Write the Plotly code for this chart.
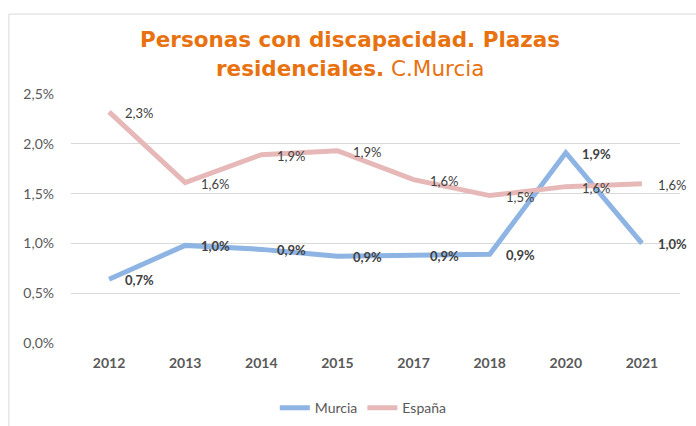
import plotly.graph_objects as go

years = ["2012", "2013", "2014", "2015", "2017", "2018", "2020", "2021"]
murcia = [0.64, 0.98, 0.94, 0.87, 0.88, 0.89, 1.91, 1.00]
espana = [2.32, 1.61, 1.89, 1.93, 1.64, 1.48, 1.57, 1.60]
murcia_labels = ["0,7%", "1,0%", "0,9%", "0,9%", "0,9%", "0,9%", "1,9%", "1,0%"]
espana_labels = ["2,3%", "1,6%", "1,9%", "1,9%", "1,6%", "1,5%", "1,6%", "1,6%"]
y_ticks = [0, 0.5, 1.0, 1.5, 2.0, 2.5]
y_tick_labels = ["0,0%", "0,5%", "1,0%", "1,5%", "2,0%", "2,5%"]

blue = "#8EB4E3"
pink = "#E6B9B8"
txt = "#404040"
axis_txt = "#595959"
orange = "#E8720F"
font = "Lato"

fig = go.Figure()
fig.add_trace(go.Scatter(x=years, y=murcia, mode="lines", name="Murcia",
                         line=dict(color=blue, width=5)))
fig.add_trace(go.Scatter(x=years, y=espana, mode="lines", name="España",
                         line=dict(color=pink, width=5)))

annotations = []
# category axis annotations use serial index positions
for i, (y, t) in enumerate(zip(murcia, murcia_labels)):
    annotations.append(dict(x=i, y=y, text="<b>" + t + "</b>", showarrow=False,
                            xanchor="left", yanchor="middle", xshift=14, yshift=-1,
                            font=dict(family=font, size=13, color=txt)))
for i, (y, t) in enumerate(zip(espana, espana_labels)):
    annotations.append(dict(x=i, y=y, text=t, showarrow=False,
                            xanchor="left", yanchor="middle", xshift=14, yshift=-1,
                            font=dict(family=font, size=13, color=txt)))

annotations.append(dict(
    xref="paper", yref="paper", x=0.458, y=1.217, xanchor="center", yanchor="middle",
    text="<b>Personas con discapacidad. Plazas</b>",
    showarrow=False, font=dict(family="DejaVu Sans", size=21.5, color=orange)))
annotations.append(dict(
    xref="paper", yref="paper", x=0.458, y=1.104, xanchor="center", yanchor="middle",
    text="<b>residenciales.</b> C.Murcia",
    showarrow=False, font=dict(family="DejaVu Sans", size=21.5, color=orange)))

fig.update_layout(
    width=696, height=426,
    margin=dict(l=71, r=16, t=94, b=83, autoexpand=False),
    paper_bgcolor="white", plot_bgcolor="white",
    showlegend=True,
    legend=dict(orientation="h", x=0.48, xanchor="center", yref="container",
                y=0.042, yanchor="middle",
                font=dict(family=font, size=14, color=axis_txt)),
    annotations=annotations,
    xaxis=dict(type="category", range=[-0.5, 7.5], showgrid=False, showline=False,
               zeroline=False,
               tickfont=dict(family=font, size=14, color=axis_txt, weight="bold"),
               ticks="", ticklabelstandoff=10),
    yaxis=dict(range=[0, 2.5], tickvals=y_ticks, ticktext=y_tick_labels,
               showgrid=True, gridcolor="#D9D9D9", gridwidth=1, zeroline=False,
               showline=False, ticks="", ticklabelstandoff=16,
               tickfont=dict(family=font, size=14, color=axis_txt)),
    shapes=[
        dict(type="line", xref="paper", yref="paper", x0=-0.102, x1=1.1, y0=1.321, y1=1.321,
             line=dict(color="#D9D9D9", width=1)),
        dict(type="line", xref="paper", yref="paper", x0=-0.102, x1=-0.102, y0=1.321, y1=-0.4,
             line=dict(color="#D9D9D9", width=1)),
    ],
)

fig.write_html("out.html", config={"displayModeBar": False},
               post_script="document.body.style.margin='0';")
